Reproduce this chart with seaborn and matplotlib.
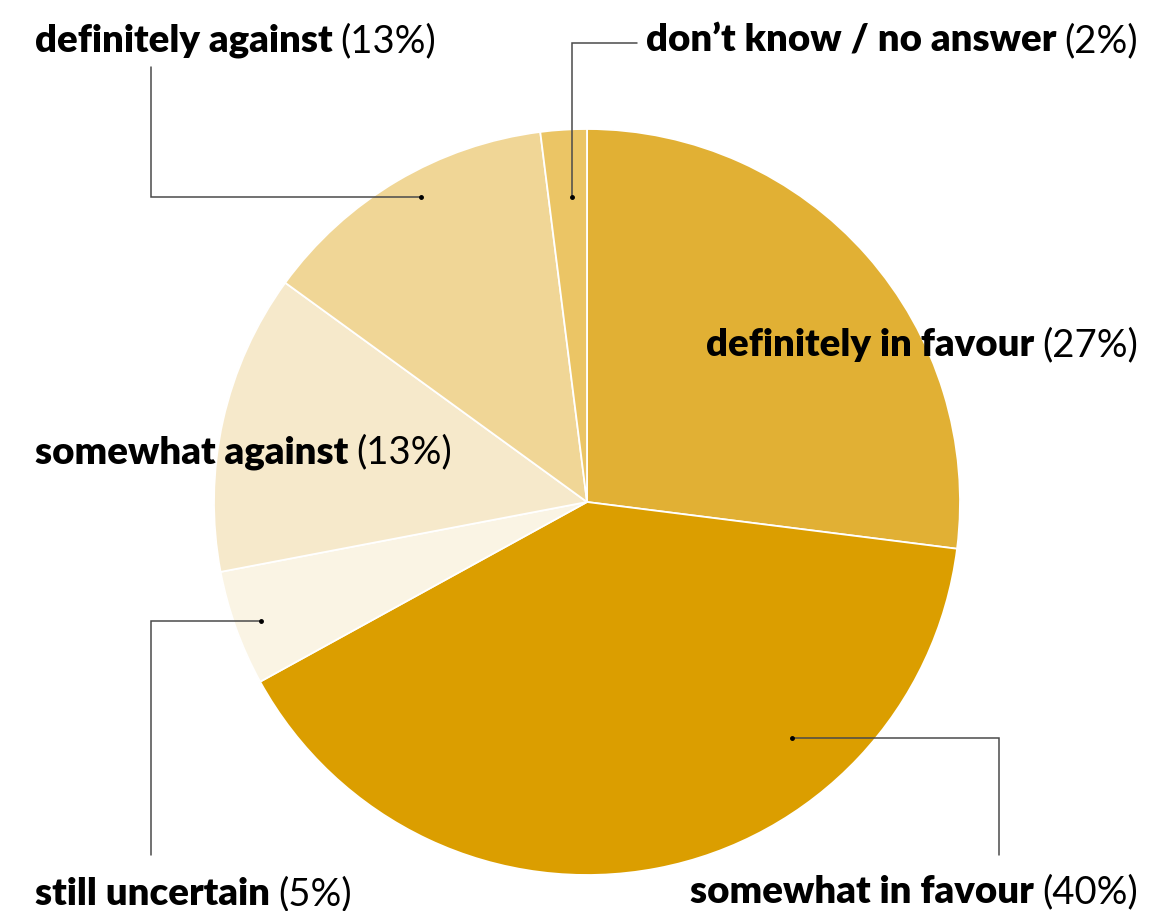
import matplotlib
matplotlib.use("Agg")
import matplotlib.pyplot as plt
import seaborn as sns
import numpy as np

# ---- data ----
categories = ["definitely in favour", "somewhat in favour", "still uncertain",
              "somewhat against", "definitely against", "don’t know / no answer"]
shares = [27, 40, 5, 13, 13, 2]
pct_labels = ["(27%)", "(40%)", "(5%)", "(13%)", "(13%)", "(2%)"]
colors = ["#E1B034", "#DB9E00", "#FAF4E4", "#F6E9CB", "#F0D696", "#EBC565"]

sns.set_theme(style="white")
plt.rcParams['font.family'] = ['Lato', 'DejaVu Sans']

W, H = 1149, 911
fig = plt.figure(figsize=(W / 100, H / 100), dpi=100)
ax = fig.add_axes([0, 0, 1, 1])

cx, cy, R = 587, H - 502, 373
wedges, _ = ax.pie(shares, colors=colors, startangle=90, counterclock=False,
                   center=(cx, cy), radius=R,
                   wedgeprops=dict(edgecolor="white", linewidth=1.3))
ax.set_xlim(0, W)
ax.set_ylim(0, H)
ax.set_aspect("equal")
ax.axis("off")

FS = 27.6
GAP = 8

# label layout: text x, baseline y (from top), ha, leader spec
layout = {
    "definitely in favour": dict(x=1138, y=356, ha="right", leader=None),
    "somewhat in favour": dict(x=1138, y=903, ha="right",
                               leader=dict(r=0.838, ang=139.0, kind="h", ex=999, ey=855)),
    "still uncertain": dict(x=35, y=905, ha="left",
                            leader=dict(r=0.93, ang=250.0, kind="h", ex=151, ey=855)),
    "somewhat against": dict(x=35, y=463, ha="left", leader=None),
    "definitely against": dict(x=35, y=52, ha="left",
                               leader=dict(r=0.93, ang=331.4, kind="h", ex=151, ey=67)),
    "don’t know / no answer": dict(x=1138, y=52, ha="right",
                                   leader=dict(r=0.82, ang=357.2, kind="v", ex=637, ey=43)),
}

fig.canvas.draw()
renderer = fig.canvas.get_renderer()

for cat, pct in zip(categories, pct_labels):
    L = layout[cat]
    yb = H - L["y"]
    if L["ha"] == "left":
        t1 = ax.text(L["x"], yb, cat, fontsize=FS, fontweight="heavy", ha="left",
                     va="baseline", color="black")
        bb = t1.get_window_extent(renderer)
        ax.text(bb.x1 + GAP, yb, pct, fontsize=FS, ha="left", va="baseline", color="black")
    else:
        t2 = ax.text(L["x"], yb, pct, fontsize=FS, ha="right", va="baseline", color="black")
        bb = t2.get_window_extent(renderer)
        ax.text(bb.x0 - GAP, yb, cat, fontsize=FS, fontweight="heavy", ha="right",
                va="baseline", color="black")
    ld = L["leader"]
    if ld is not None:
        a = np.deg2rad(ld["ang"])
        px = cx + ld["r"] * R * np.sin(a)
        py = cy + ld["r"] * R * np.cos(a)
        ex, ey = ld["ex"], H - ld["ey"]
        if ld["kind"] == "h":
            xs, ys = [px, ex, ex], [py, py, ey]
        else:
            xs, ys = [px, px, ex], [py, ey, ey]
        ax.plot(xs, ys, color="#4a4a4a", lw=1.1, solid_joinstyle="miter")
        ax.plot([px], [py], "o", color="black", ms=2.5)

fig.savefig("out.png", dpi=100)
